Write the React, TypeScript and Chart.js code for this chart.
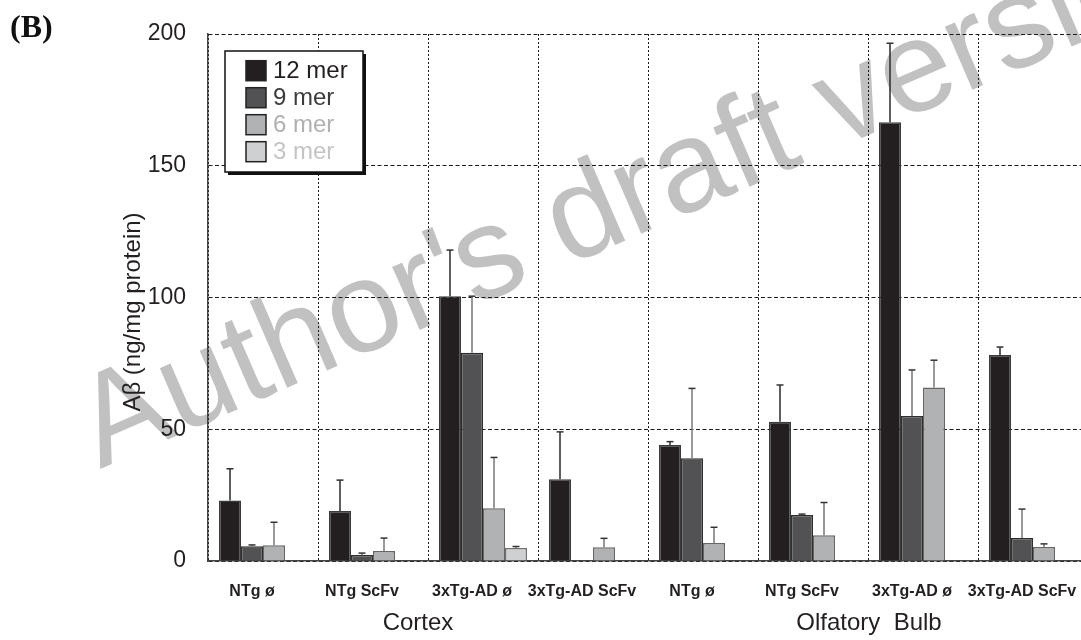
import React, { useEffect, useRef } from "react";
import { Chart, registerables } from "chart.js";

Chart.register(...registerables);

const categories = [
  "NTg ø",
  "NTg ScFv",
  "3xTg-AD ø",
  "3xTg-AD ScFv",
  "NTg ø",
  "NTg ScFv",
  "3xTg-AD ø",
  "3xTg-AD ScFv",
];
const regions = ["Cortex", "Olfatory  Bulb"];
const seriesNames = ["12 mer", "9 mer", "6 mer", "3 mer"];

const mer12 = [23, 19, 100.5, 31, 44, 52.8, 166.5, 78.2];
const mer12Err = [12, 11.7, 17.5, 18, 1.3, 14, 30, 3];
const mer9 = [5.6, 2.3, 79, null, 39, 17.5, 55, 8.7];
const mer9Err = [0.5, 0.7, 21.5, null, 26.5, 0.3, 17.5, 11];
const mer6 = [6, 3.8, 20, 5.2, 6.8, 9.8, 65.8, 5.3];
const mer6Err = [8.7, 4.9, 19.3, 3.4, 6, 12.4, 10.4, 1.2];
const mer3 = [null, null, 4.9, null, null, null, null, null];
const mer3Err = [null, null, 0.6, null, null, null, null, null];

const yMin = 0;
const yMax = 200;
const yStep = 50;

const yTitle = "Aβ (ng/mg protein)";
const panelLabel = "(B)";
const watermark = "Author's draft version";

const FONT = "'Liberation Sans', Arial, Helvetica, sans-serif";
const INK = "#231f20";

const barFill = ["#231f20", "#525254", "#b1b2b4", "#cfd0d2"];
const barEdge = ["#3a3a3a", "#2e2e2e", "#666666", "#707070"];
const errInk = ["#2a2a2a", "#777777", "#777777", "#777777"];
const legendInk = ["#231f20", "#3c3c3c", "#b0b0b0", "#c4c4c4"];

const watermarkPlugin = {
  id: "watermark",
  beforeDraw(chart: any) {
    const ctx = chart.ctx;
    ctx.save();
    ctx.translate(100, 469);
    ctx.rotate((-23.5 * Math.PI) / 180);
    ctx.font = `130px ${FONT}`;
    ctx.fillStyle = "#c1c1c1";
    ctx.textBaseline = "alphabetic";
    ctx.textAlign = "left";
    ctx.fillText(watermark, 0, 0);
    ctx.restore();
  },
};

const errorBarPlugin = {
  id: "errorBars",
  afterDatasetsDraw(chart: any) {
    const ctx = chart.ctx;
    const yScale = chart.scales.y;
    chart.data.datasets.forEach((ds: any, di: number) => {
      const meta = chart.getDatasetMeta(di);
      meta.data.forEach((el: any, i: number) => {
        const v = ds.data[i];
        const e = ds.errors[i];
        if (v == null || e == null) return;
        const yTop = yScale.getPixelForValue(v + e);
        const x = el.x;
        ctx.save();
        ctx.strokeStyle = ds.errColor;
        ctx.lineWidth = 1.5;
        ctx.beginPath();
        ctx.moveTo(x, el.y);
        ctx.lineTo(x, yTop);
        ctx.stroke();
        ctx.strokeStyle = "#333";
        ctx.beginPath();
        ctx.moveTo(x - 3.5, yTop);
        ctx.lineTo(x + 3.5, yTop);
        ctx.stroke();
        ctx.restore();
      });
    });
  },
};

const decorPlugin = {
  id: "decor",
  afterDraw(chart: any) {
    const ctx = chart.ctx;
    const xs = chart.scales.x;
    // legend box
    const bx = 225, by = 51, bw = 138, bh = 121;
    ctx.save();
    ctx.fillStyle = "#111";
    ctx.fillRect(bx + 3, by + 3, bw, bh);
    ctx.fillStyle = "#fff";
    ctx.fillRect(bx, by, bw, bh);
    ctx.strokeStyle = "#111";
    ctx.lineWidth = 1.5;
    ctx.strokeRect(bx, by, bw, bh);
    chart.data.datasets.forEach((ds: any, i: number) => {
      const cy = 70.7 + i * 27;
      ctx.fillStyle = ds.backgroundColor;
      ctx.fillRect(246, cy - 10, 20, 20);
      ctx.strokeStyle = "#222";
      ctx.lineWidth = 1.5;
      ctx.strokeRect(246, cy - 10, 20, 20);
      ctx.fillStyle = ds.legendColor;
      ctx.font = `24px ${FONT}`;
      ctx.textAlign = "left";
      ctx.textBaseline = "middle";
      ctx.fillText(ds.label, 273, cy + 1);
    });
    // region labels
    ctx.fillStyle = INK;
    ctx.font = `24px ${FONT}`;
    ctx.textAlign = "center";
    ctx.textBaseline = "alphabetic";
    const half = categories.length / 2;
    regions.forEach((r, k) => {
      const a = xs.getPixelForValue(k * half + half / 2 - 1);
      const b = xs.getPixelForValue(k * half + half / 2);
      const shift = k === 0 ? -10 : 1;
      ctx.fillText(r, (a + b) / 2 + shift, 630);
    });
    // y title
    ctx.save();
    ctx.translate(133, 312);
    ctx.rotate(-Math.PI / 2);
    ctx.font = `24px ${FONT}`;
    ctx.textAlign = "center";
    ctx.textBaseline = "middle";
    ctx.fillText(yTitle, 0, 0);
    ctx.restore();
    // panel label
    ctx.font = `bold 32px 'Liberation Serif', 'Times New Roman', serif`;
    ctx.textAlign = "left";
    ctx.textBaseline = "alphabetic";
    ctx.fillStyle = "#111";
    ctx.fillText(panelLabel, 10, 37);
    ctx.restore();
  },
};

export default function App() {
  const ref = useRef<HTMLCanvasElement | null>(null);

  useEffect(() => {
    if (!ref.current) return;
    const series = [mer12, mer9, mer6, mer3];
    const errs = [mer12Err, mer9Err, mer6Err, mer3Err];
    const chart = new Chart(ref.current, {
      type: "bar",
      data: {
        labels: categories,
        datasets: seriesNames.map((name, i) => ({
          label: name,
          data: series[i],
          errors: errs[i],
          errColor: errInk[i],
          legendColor: legendInk[i],
          backgroundColor: barFill[i],
          borderColor: barEdge[i],
          borderWidth: 1.5,
          categoryPercentage: 0.8,
          barPercentage: 1.0,
        })) as any,
      },
      options: {
        responsive: false,
        animation: false,
        devicePixelRatio: 1,
        layout: { padding: { top: 34, right: 8, bottom: 0, left: 0 } },
        plugins: {
          legend: { display: false },
          tooltip: { enabled: false },
          title: { display: false },
        },
        scales: {
          x: {
            type: "category",
            offset: true,
            grid: {
              display: true,
              offset: true,
              drawTicks: false,
              color: "#1a1a1a",
              lineWidth: 1,
            },
            border: { display: true, color: "#444", width: 1.5, dash: [2, 2] },
            ticks: {
              autoSkip: false,
              maxRotation: 0,
              minRotation: 0,
              padding: 21,
              labelOffset: -11,
              color: INK,
              font: { family: FONT, size: 16, weight: "bold" },
            },
            afterFit: (s: any) => {
              s.height = 79;
              s.paddingLeft = 0;
              s.paddingRight = 0;
            },
          },
          y: {
            min: yMin,
            max: yMax,
            grid: {
              display: true,
              drawTicks: false,
              color: "#1a1a1a",
              lineWidth: 1,
            },
            border: { display: true, color: "#444", width: 1.5, dash: [4, 2.5] },
            ticks: {
              stepSize: yStep,
              padding: 22,
              color: INK,
              font: { family: FONT, size: 23, lineHeight: 1.0 },
            },
            afterFit: (s: any) => {
              s.width = 208;
              s.paddingTop = 0;
              s.paddingBottom = 0;
            },
          },
        },
      },
      plugins: [watermarkPlugin, errorBarPlugin, decorPlugin],
    } as any);
    return () => chart.destroy();
  }, []);

  return (
    <div
      style={{
        position: "absolute",
        left: 0,
        top: 0,
        width: 1081,
        height: 640,
        overflow: "hidden",
        background: "#fff",
      }}
    >
      <canvas
        ref={ref}
        width={1096}
        height={640}
        style={{ display: "block", width: 1096, height: 640 }}
      />
    </div>
  );
}
